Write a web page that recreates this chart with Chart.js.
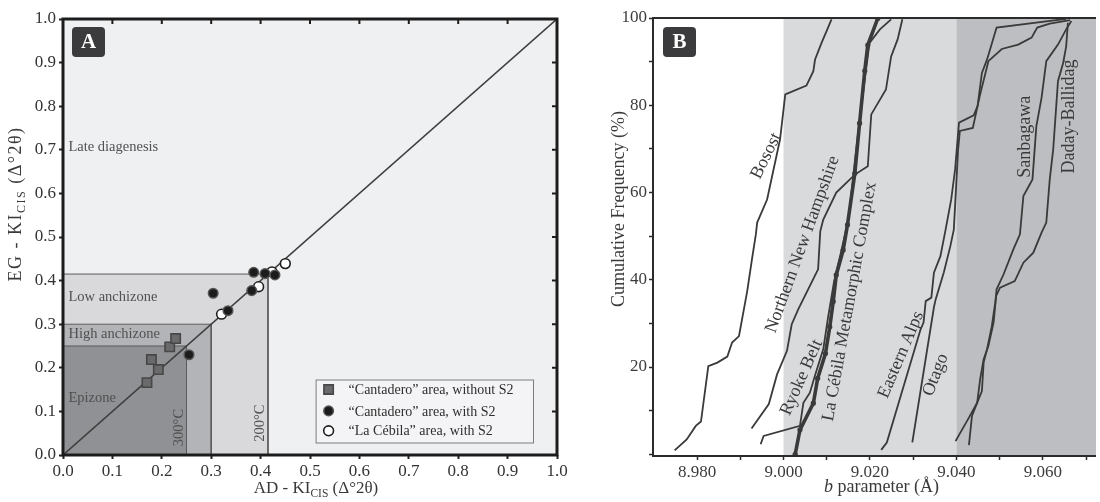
<!DOCTYPE html>
<html>
<head>
<meta charset="utf-8">
<script src="https://cdn.jsdelivr.net/npm/chart.js@4.4.1/dist/chart.umd.min.js"></script>
<style>
  html, body { margin: 0; padding: 0; background: #fff; }
  #wrap { position: relative; width: 1100px; height: 502px; overflow: hidden; }
  #chartA { position: absolute; left: 0; top: 0; }
  #chartB { position: absolute; left: 590px; top: 0; }
</style>
</head>
<body>
<div id="wrap">
  <canvas id="chartA" width="590" height="502"></canvas>
  <canvas id="chartB" width="510" height="502"></canvas>
</div>
<script>
// ---- panel A : Kübler index, AD vs EG ----
const kiTicks = [0, 0.1, 0.2, 0.3, 0.4, 0.5, 0.6, 0.7, 0.8, 0.9, 1.0];

const zoneNames = ['Late diagenesis', 'Low anchizone', 'High anchizone', 'Epizone'];
const zoneLimits = [1.0, 0.415, 0.30, 0.25];
const isoLabels = ['300°C', '200°C'];
const isoLimits = [0.25, 0.415];

const diagX = [0, 1];
const diagY = [0, 1];

const cantNoS2X = [0.170, 0.179, 0.193, 0.216, 0.228];
const cantNoS2Y = [0.166, 0.219, 0.196, 0.248, 0.267];
const cantS2X = [0.255, 0.304, 0.334, 0.382, 0.386, 0.409, 0.429];
const cantS2Y = [0.230, 0.371, 0.331, 0.377, 0.419, 0.416, 0.413];
const cebilaX = [0.321, 0.396, 0.423, 0.450];
const cebilaY = [0.323, 0.386, 0.420, 0.439];
const seriesNames = ['“Cantadero” area, without S2', '“Cantadero” area, with S2', '“La Cébila” area, with S2'];

// ---- panel B : b parameter cumulative curves ----
const bTicks = [8.98, 8.99, 9.00, 9.01, 9.02, 9.03, 9.04, 9.05, 9.06, 9.07];
const bTickLabels = ['8.980', '', '9.000', '', '9.020', '', '9.040', '', '9.060', ''];
const freqTicks = [0, 10, 20, 30, 40, 50, 60, 70, 80, 90, 100];
const freqTickLabels = ['', '', '20', '', '40', '', '60', '', '80', '', '100'];
const bandEdges = [9.000, 9.040];

const curveNames = ['Bosost', 'Northern New Hampshire', 'Ryoke Belt', 'La Cébila Metamorphic Complex',
  'Eastern Alps', 'Otago', 'Sanbagawa', 'Daday-Ballidag'];

const bosostB = [8.9748, 8.9776, 8.9797, 8.9809, 8.9826, 8.9847, 8.9870, 8.9881, 8.9897, 8.9916, 8.9927,
  8.9936, 8.9939, 8.9962, 8.9992, 9.0004, 9.0053, 9.0069, 9.0073, 9.0088, 9.0103, 9.0111];
const bosostF = [0.9, 3.4, 6.5, 7.5, 20.2, 21.0, 22.4, 25.6, 27.1, 37.4, 44.7,
  50.4, 53.1, 58.4, 72.2, 82.5, 84.5, 87.8, 90.5, 94.3, 97.8, 99.7];
const nnhB = [8.9926, 8.9966, 8.9985, 9.0008, 9.0019, 9.0034, 9.0073, 9.0080, 9.0085, 9.0092, 9.0122,
  9.0165, 9.0195, 9.0203, 9.0237, 9.0249, 9.0264, 9.0275];
const nnhF = [5.9, 11.5, 18.3, 23.7, 29.8, 33.2, 41.0, 42.4, 51.1, 53.8, 60.0,
  64.1, 66.0, 77.9, 83.6, 91.2, 95.1, 99.7];
const ryokeB = [8.9947, 8.9954, 9.0038, 9.0046, 9.0061, 9.0073, 9.0092, 9.0103, 9.0117, 9.0133, 9.0151,
  9.0161, 9.0170, 9.0179, 9.0191, 9.0199, 9.0223, 9.0249];
const ryokeF = [2.3, 4.2, 6.5, 11.8, 14.1, 18.1, 24.1, 31.4, 39.6, 46.3, 54.3,
  63.5, 71.5, 79.0, 88.2, 94.3, 97.4, 99.7];
const cebilaB = [9.0027, 9.0038, 9.0069, 9.0079, 9.0097, 9.0107, 9.0115, 9.0122, 9.0138, 9.0148, 9.0165,
  9.0176, 9.0188, 9.0195, 9.0218];
const cebilaF = [0, 5.6, 11.7, 17.4, 23.1, 29.2, 35.0, 41.1, 46.8, 52.6, 64.4,
  75.9, 87.9, 93.8, 99.9];
const alpsB = [9.0226, 9.0239, 9.0317, 9.0324, 9.0329, 9.0342, 9.0348, 9.0363, 9.0375, 9.0388, 9.0397,
  9.0406, 9.0440, 9.0449, 9.0459, 9.0471, 9.0493, 9.0654];
const alpsF = [1.0, 2.7, 28.6, 30.2, 35.1, 35.9, 41.6, 45.4, 51.5, 58.4, 65.3,
  76.0, 77.7, 79.8, 87.4, 90.5, 97.8, 99.8];
const otagoB = [9.0298, 9.0348, 9.0352, 9.0371, 9.0386, 9.0394, 9.0399, 9.0404, 9.0408, 9.0438, 9.0454,
  9.0474, 9.0505, 9.0543, 9.0574, 9.0587, 9.0616, 9.0663];
const otagoF = [2.7, 33.7, 35.5, 41.7, 47.7, 51.5, 60.7, 69.9, 74.1, 74.8, 82.1,
  90.1, 92.9, 93.9, 95.5, 97.8, 98.7, 99.5];
const sanbB = [9.0398, 9.0429, 9.0448, 9.0459, 9.0463, 9.0471, 9.0482, 9.0490, 9.0493, 9.0509, 9.0532,
  9.0547, 9.0555, 9.0576, 9.0585, 9.0597, 9.0608, 9.0635, 9.0654, 9.0666];
const sanbF = [3.0, 8.4, 11.8, 14.5, 21.0, 24.1, 29.4, 34.8, 37.8, 41.2, 47.0,
  50.4, 59.2, 63.0, 75.2, 81.7, 90.1, 93.9, 97.4, 99.3];
const dadayB = [9.0429, 9.0436, 9.0448, 9.0455, 9.0463, 9.0474, 9.0486, 9.0492, 9.0501, 9.0535, 9.0555,
  9.0578, 9.0597, 9.0608, 9.0616, 9.0624, 9.0635, 9.0647, 9.0654, 9.0658];
const dadayF = [2.1, 8.8, 11.8, 17.2, 21.8, 24.8, 30.2, 36.3, 38.2, 39.7, 43.9,
  46.2, 50.8, 53.1, 63.0, 69.9, 85.5, 89.7, 93.5, 98.9];

// where the curve names sit (layout only)
const nameAtB = [8.9960, 9.0044, 9.0042, 9.0153, 9.0272, 9.0352, 9.0560, 9.0660];
const nameAtF = [68.4, 48.1, 17.6, 35.0, 22.8, 18.2, 72.8, 77.4];
const nameAngle = [-64, -70, -66, -79.8, -67, -69, -90, -90];

const serif = "'Liberation Serif', 'Times New Roman', serif";
Chart.defaults.font.family = serif;

function pts(xs, ys) {
  return xs.map(function (x, i) { return { x: x, y: ys[i] }; });
}

function drawParts(ctx, parts, x, y, angle, spacing) {
  ctx.save();
  ctx.translate(x, y);
  ctx.rotate(angle);
  ctx.textAlign = 'left';
  ctx.textBaseline = 'alphabetic';
  if (spacing) ctx.letterSpacing = spacing;
  let w = 0;
  parts.forEach(function (p) { ctx.font = p.font; p.w = ctx.measureText(p.t).width; w += p.w; });
  let cx = -w / 2;
  parts.forEach(function (p) { ctx.font = p.font; ctx.fillText(p.t, cx, p.dy || 0); cx += p.w; });
  ctx.restore();
}

function letterBox(ctx, left, top, text) {
  ctx.save();
  ctx.fillStyle = '#3b3b3d';
  ctx.beginPath();
  ctx.roundRect(left, top, 33, 30, 4);
  ctx.fill();
  ctx.fillStyle = '#ffffff';
  ctx.font = 'bold 21px ' + serif;
  ctx.textAlign = 'center';
  ctx.textBaseline = 'middle';
  ctx.fillText(text, left + 16.5, top + 16);
  ctx.restore();
}

const zoneColors = ['#eff0f2', '#d9d9db', '#b3b4b7', '#909194'];
const zoneTextX = 0.011;
const zoneTextY = [0.705, 0.363, 0.276, 0.131];
const isoTextY = [0.063, 0.073];

const panelA = {
  id: 'panelA',
  afterDatasetsDraw(chart) {
    const ctx = chart.ctx, xs = chart.scales.x, ys = chart.scales.y;
    ctx.save();
    ctx.fillStyle = '#505050';
    ctx.font = '14.5px ' + serif;
    ctx.textAlign = 'left';
    ctx.textBaseline = 'middle';
    zoneNames.forEach(function (n, i) {
      ctx.fillText(n, xs.getPixelForValue(zoneTextX), ys.getPixelForValue(zoneTextY[i]));
    });
    isoLabels.forEach(function (t, i) {
      ctx.save();
      ctx.translate(xs.getPixelForValue(isoLimits[i]) - 7.5, ys.getPixelForValue(isoTextY[i]));
      ctx.rotate(-Math.PI / 2);
      ctx.textAlign = 'center';
      ctx.fillText(t, 0, 0);
      ctx.restore();
    });
    ctx.restore();
  },
  afterDraw(chart) {
    const ctx = chart.ctx, xs = chart.scales.x, ys = chart.scales.y, a = chart.chartArea;
    ctx.save();
    // frame + inner ticks on top and right
    ctx.strokeStyle = '#1c1c1c';
    ctx.lineWidth = 3;
    ctx.strokeRect(a.left, a.top, a.right - a.left, a.bottom - a.top);
    ctx.lineWidth = 2;
    ctx.beginPath();
    kiTicks.forEach(function (v) {
      const px = xs.getPixelForValue(v), py = ys.getPixelForValue(v);
      ctx.moveTo(px, a.top); ctx.lineTo(px, a.top + 5);
      ctx.moveTo(a.right, py); ctx.lineTo(a.right - 5, py);
    });
    ctx.stroke();

    // legend
    const lx = a.left + 252.6, ly = a.top + 360.5;
    ctx.fillStyle = '#f4f4f6';
    ctx.fillRect(lx, ly, 217.4, 63);
    ctx.strokeStyle = '#7c7c7c';
    ctx.lineWidth = 1;
    ctx.strokeRect(lx + 0.5, ly + 0.5, 217.4, 63);
    const rows = [10, 31.4, 51.3];
    seriesNames.forEach(function (n, i) {
      const ds = chart.data.datasets[i];
      ctx.fillStyle = ds.pointBackgroundColor;
      ctx.strokeStyle = ds.pointBorderColor;
      ctx.lineWidth = ds.pointBorderWidth;
      Chart.helpers.drawPoint(ctx, { pointStyle: ds.pointStyle, radius: ds.pointRadius, rotation: 0, borderWidth: ds.pointBorderWidth }, lx + 13, ly + rows[i]);
      ctx.fillStyle = '#2e2e2e';
      ctx.font = '14px ' + serif;
      ctx.textAlign = 'left';
      ctx.textBaseline = 'middle';
      ctx.fillText(n, lx + 33, ly + rows[i] + 1);
    });

    letterBox(ctx, a.left + 9, a.top + 8, 'A');

    ctx.fillStyle = '#3a3a3a';
    const big = '17px ' + serif, small = '11.5px ' + serif;
    drawParts(ctx, [{ t: 'AD - KI', font: big }, { t: 'CIS', font: small, dy: 4 }, { t: ' (Δ°2θ)', font: big }],
      316, 493, 0);
    drawParts(ctx, [{ t: 'EG - KI', font: '18px ' + serif }, { t: 'CIS', font: '12px ' + serif, dy: 4 }, { t: ' (Δ°2θ)', font: '18px ' + serif }],
      21, 204, -Math.PI / 2, '1.5px');
    ctx.restore();
  }
};

const zoneSets = zoneLimits.map(function (L, i) {
  return {
    label: zoneNames[i],
    data: pts([0, L, L], [L, L, 0]),
    fill: 'origin',
    backgroundColor: zoneColors[i],
    borderColor: '#5a5a5a',
    borderWidth: 1,
    pointRadius: 0,
    tension: 0,
    order: 5 - i
  };
});

new Chart(document.getElementById('chartA'), {
  type: 'line',
  data: {
    datasets: [
      { label: seriesNames[0], data: pts(cantNoS2X, cantNoS2Y), showLine: false, pointStyle: 'rect',
        pointRadius: 6.6, pointBackgroundColor: '#6a6a6c', pointBorderColor: '#474747', pointBorderWidth: 1.6, order: 0 },
      { label: seriesNames[1], data: pts(cantS2X, cantS2Y), showLine: false, pointStyle: 'circle',
        pointRadius: 4.8, pointBackgroundColor: '#1c1c1c', pointBorderColor: '#555555', pointBorderWidth: 1.5, order: 0 },
      { label: seriesNames[2], data: pts(cebilaX, cebilaY), showLine: false, pointStyle: 'circle',
        pointRadius: 4.9, pointBackgroundColor: '#ffffff', pointBorderColor: '#1e1e1e', pointBorderWidth: 1.6, order: 0 },
      { label: '1:1', data: pts(diagX, diagY), borderColor: '#3e3e3e', borderWidth: 1.6, pointRadius: 0, order: 1 }
    ].concat(zoneSets)
  },
  options: {
    responsive: false,
    animation: false,
    events: [],
    layout: { padding: { top: 19, right: 33, left: 0, bottom: 0 } },
    plugins: { legend: { display: false }, tooltip: { enabled: false } },
    scales: {
      x: {
        type: 'linear', min: 0, max: 1,
        afterBuildTicks: function (s) { s.ticks = kiTicks.map(function (v) { return { value: v }; }); },
        afterFit: function (s) { s.height = 47; },
        grid: { drawOnChartArea: false, tickLength: 4, tickWidth: 2, tickColor: '#222' },
        border: { display: false },
        ticks: { autoSkip: false, maxRotation: 0, padding: 2, color: '#333', font: { size: 17 },
          callback: function (v) { return v.toFixed(1); } }
      },
      y: {
        type: 'linear', min: 0, max: 1,
        afterBuildTicks: function (s) { s.ticks = kiTicks.map(function (v) { return { value: v }; }); },
        afterFit: function (s) { s.width = 63; },
        grid: { drawOnChartArea: false, tickLength: 4, tickWidth: 2, tickColor: '#222' },
        border: { display: false },
        ticks: { autoSkip: false, padding: 3, color: '#333', font: { size: 17 },
          callback: function (v) { return v.toFixed(1); } }
      }
    }
  },
  plugins: [panelA]
});

// ---- panel B ----
const panelB = {
  id: 'panelB',
  beforeDraw(chart) {
    const ctx = chart.ctx, xs = chart.scales.x, a = chart.chartArea;
    const e0 = xs.getPixelForValue(bandEdges[0]), e1 = xs.getPixelForValue(bandEdges[1]);
    ctx.save();
    ctx.fillStyle = '#d9dadc';
    ctx.fillRect(e0, a.top, e1 - e0, a.bottom - a.top);
    ctx.fillStyle = '#bdbec1';
    ctx.fillRect(e1, a.top, a.right - e1, a.bottom - a.top);
    ctx.restore();
  },
  afterDatasetsDraw(chart) {
    const ctx = chart.ctx, xs = chart.scales.x, ys = chart.scales.y;
    ctx.save();
    ctx.fillStyle = '#3a3a3a';
    ctx.font = '18px ' + serif;
    ctx.textAlign = 'center';
    ctx.textBaseline = 'middle';
    curveNames.forEach(function (n, i) {
      ctx.save();
      ctx.translate(xs.getPixelForValue(nameAtB[i]), ys.getPixelForValue(nameAtF[i]));
      ctx.rotate(nameAngle[i] * Math.PI / 180);
      ctx.fillText(n, 0, 0);
      ctx.restore();
    });
    ctx.restore();
  },
  afterDraw(chart) {
    const ctx = chart.ctx, a = chart.chartArea;
    ctx.save();
    ctx.strokeStyle = '#2b2b2b';
    ctx.lineWidth = 2;
    ctx.beginPath();
    ctx.moveTo(a.right, a.top);
    ctx.lineTo(a.left, a.top);
    ctx.lineTo(a.left, a.bottom);
    ctx.lineTo(a.right, a.bottom);
    ctx.stroke();

    letterBox(ctx, a.left + 10, a.top + 9, 'B');

    ctx.fillStyle = '#3a3a3a';
    drawParts(ctx, [{ t: 'b', font: 'italic 18px ' + serif }, { t: ' parameter (Å)', font: '18px ' + serif }],
      291.5, 492, 0);
    drawParts(ctx, [{ t: 'Cumulative Frequency (%)', font: '18px ' + serif }], 34, 209, -Math.PI / 2);
    ctx.restore();
  }
};

const curveB = [bosostB, nnhB, ryokeB, cebilaB, alpsB, otagoB, sanbB, dadayB];
const curveF = [bosostF, nnhF, ryokeF, cebilaF, alpsF, otagoF, sanbF, dadayF];

new Chart(document.getElementById('chartB'), {
  type: 'line',
  data: {
    datasets: curveNames.map(function (n, i) {
      const main = n === 'La Cébila Metamorphic Complex';
      return {
        label: n,
        data: pts(curveB[i], curveF[i]),
        borderColor: '#3a3a3a',
        borderWidth: main ? 3.6 : 1.8,
        pointRadius: main ? 2.6 : 0,
        pointBackgroundColor: '#3a3a3a',
        pointBorderWidth: 0,
        tension: 0,
        fill: false,
        order: main ? 0 : 1
      };
    })
  },
  options: {
    responsive: false,
    animation: false,
    events: [],
    layout: { padding: { top: 18, right: 0, left: 0, bottom: 0 } },
    plugins: { legend: { display: false }, tooltip: { enabled: false } },
    scales: {
      x: {
        type: 'linear', min: 8.9698, max: 9.0723,
        afterBuildTicks: function (s) { s.ticks = bTicks.map(function (v) { return { value: v }; }); },
        afterFit: function (s) { s.height = 46; },
        grid: { drawOnChartArea: false, tickLength: 4, tickWidth: 1.5, tickColor: '#2b2b2b' },
        border: { display: false },
        ticks: { autoSkip: false, maxRotation: 0, padding: 2, color: '#3c3c3c', font: { size: 17 },
          callback: function (v, i) { return bTickLabels[i]; } }
      },
      y: {
        type: 'linear', min: -0.4, max: 100,
        afterBuildTicks: function (s) { s.ticks = freqTicks.map(function (v) { return { value: v }; }); },
        afterFit: function (s) { s.width = 63; },
        grid: { drawOnChartArea: false, tickLength: 4, tickWidth: 1.5, tickColor: '#2b2b2b' },
        border: { display: false },
        ticks: { autoSkip: false, padding: 2, color: '#3c3c3c', font: { size: 17 },
          callback: function (v, i) { return freqTickLabels[i]; } }
      }
    }
  },
  plugins: [panelB]
});
</script>
</body>
</html>
